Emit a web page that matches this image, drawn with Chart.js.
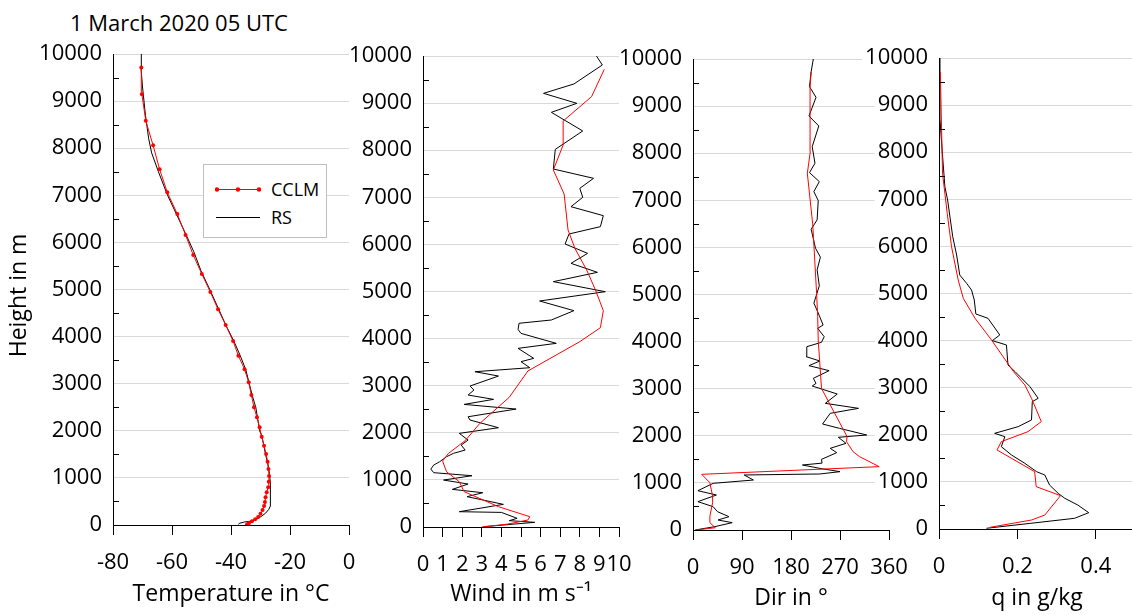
<!DOCTYPE html>
<html>
<head>
<meta charset="utf-8">
<script src="https://cdn.jsdelivr.net/npm/chart.js@4.4.0/dist/chart.umd.min.js"></script>
<style>
  html, body { margin: 0; padding: 0; background: #fff; width: 1132px; height: 615px; overflow: hidden; }
  body { position: relative; font-family: "Open Sans", sans-serif; color: #000; }
  canvas.panel { position: absolute; left: 0; top: 0; }
  #titulo { position: absolute; left: 70px; top: 8px; font-size: 22px; line-height: 28px; white-space: nowrap; }
  #leyenda { position: absolute; left: 203px; top: 164px; width: 122px; height: 72px; border: 1px solid #bfbfbf; background: #fff; }
  #leyenda .fila { position: absolute; left: 11px; height: 20px; font-size: 18px; line-height: 20px; white-space: nowrap; }
  #leyenda svg { position: absolute; left: 0; top: 5px; }
  #leyenda span { position: absolute; left: 56px; top: 0; }
</style>
</head>
<body>
<div id="titulo">1 March 2020 05 UTC</div>
<canvas id="g-temp" class="panel" width="1160" height="615"></canvas>
<canvas id="g-viento" class="panel" width="1160" height="615"></canvas>
<canvas id="g-dir" class="panel" width="1160" height="615"></canvas>
<canvas id="g-q" class="panel" width="1160" height="615"></canvas>
<div id="leyenda"></div>
<script>
// Rangos de los ejes: [min, max, paso]
const rangoAltura = [0, 10000, 500];
const rangoTemp = [-80, 0, 20];
const rangoViento = [0, 10, 1];
const rangoDir = [0, 360, 90];
const rangoQ = [0, 0.5, 0.2];

const nombres = ['CCLM', 'RS'];

// Temperatura (°C)
const tempCclmAlt = [0, 14, 42, 78, 120, 170, 240, 318, 403, 488, 588, 694, 800, 920, 1040, 1189, 1344, 1507, 1684, 1875, 2073, 2286, 2498, 2760, 3029, 3305, 3595, 3906, 4246, 4579, 4947, 5329, 5732, 6157, 6603, 7063, 7551, 8060, 8584, 9143, 9716];
const tempCclm = [-34.6, -34.5, -33.9, -32.9, -31.8, -30.8, -30.0, -29.3, -28.8, -28.5, -28.3, -27.9, -27.4, -27.2, -27.1, -27.3, -27.6, -28.1, -28.8, -29.6, -30.3, -31.2, -32.2, -33.1, -34.0, -35.4, -37.5, -39.3, -41.8, -44.4, -47.0, -49.9, -52.8, -55.4, -58.2, -61.6, -64.2, -66.4, -68.9, -70.2, -70.4];
const tempRsAlt = [10, 35, 64, 80, 120, 180, 250, 330, 400, 600, 900, 1100, 1300, 1500, 1700, 1900, 2000, 2200, 2500, 2750, 3000, 3300, 3600, 3900, 4250, 4600, 5000, 5400, 5800, 6200, 6600, 7000, 7500, 7900, 8200, 8700, 9300, 9700, 10000];
const tempRs = [-37.5, -37.2, -35.5, -33.5, -31.5, -29.8, -28.3, -27.2, -26.7, -26.6, -26.7, -27.0, -27.5, -28.3, -28.9, -29.6, -30.3, -30.8, -31.6, -32.8, -33.8, -35.0, -36.9, -39.0, -41.8, -44.3, -47.2, -50.2, -52.6, -55.5, -58.5, -61.5, -64.6, -66.9, -67.9, -69.0, -70.0, -70.5, -70.4];

// Viento (m/s)
const vientoCclmAlt = [0, 60, 148, 219, 431, 750, 962, 1174, 1400, 1563, 1832, 2200, 2753, 3312, 3935, 4232, 4593, 5032, 5457, 5917, 6306, 7070, 7580, 8110, 8620, 9137, 9717];
const vientoCclm = [3.0, 4.3, 5.35, 5.45, 3.85, 2.1, 1.85, 1.2, 1.0, 1.3, 2.15, 2.9, 4.4, 5.35, 8.0, 9.05, 9.2, 8.8, 8.35, 7.75, 7.4, 7.2, 6.65, 7.15, 7.15, 8.6, 9.25];
const vientoRsAlt = [7, 99, 135, 184, 310, 325, 481, 644, 728, 799, 912, 997, 1089, 1153, 1230, 1316, 1386, 1492, 1563, 1634, 1740, 1846, 1988, 2108, 2271, 2341, 2504, 2603, 2710, 2802, 2908, 2993, 3205, 3297, 3382, 3510, 3581, 3793, 3899, 4111, 4196, 4325, 4395, 4593, 4798, 4996, 5209, 5407, 5598, 5810, 6009, 6221, 6377, 6610, 6801, 7000, 7190, 7403, 7601, 8018, 8408, 8804, 8995, 9207, 9406, 9809, 10000];
const vientoRs = [3.1, 5.7, 4.4, 4.8, 4.0, 1.85, 4.1, 2.25, 3.05, 1.5, 2.3, 1.05, 2.5, 0.55, 0.4, 0.55, 0.85, 1.2, 1.55, 2.15, 1.95, 2.3, 1.85, 3.85, 2.4, 2.3, 4.75, 2.1, 3.6, 2.3, 2.6, 2.4, 3.85, 2.65, 5.45, 5.0, 5.65, 4.85, 6.8, 5.0, 4.85, 4.9, 6.55, 7.7, 5.95, 9.3, 6.65, 8.9, 7.55, 8.4, 7.25, 7.45, 9.05, 9.2, 7.55, 8.15, 8.0, 8.7, 6.65, 6.75, 8.15, 6.55, 7.85, 6.15, 7.7, 9.15, 8.85];

// Dirección del viento (°)
const dirCclmAlt = [0, 49, 156, 294, 577, 718, 1004, 1182, 1345, 1557, 1663, 1875, 1982, 3007, 4034, 4533, 5029, 6478, 7574, 8033, 9377, 9730];
const dirCclm = [5, 41, 31, 31, 36, 36, 31, 16, 342, 306, 294, 282, 283, 236, 230, 229, 227, 220, 210, 215.5, 215, 217];
const dirRsAlt = [0, 71, 156, 212, 283, 389, 495, 602, 743, 834, 991, 1061, 1168, 1189, 1239, 1300, 1380, 1420, 1500, 1642, 1734, 1840, 1968, 2017, 2158, 2250, 2477, 2583, 2689, 2887, 3057, 3113, 3220, 3383, 3489, 3588, 3680, 3892, 3985, 4104, 4281, 4352, 4635, 4816, 5184, 5524, 5792, 5983, 6386, 6584, 6994, 7185, 7397, 7588, 7786, 8139, 8578, 8790, 9186, 9413, 9730, 10000];
const dirRs = [4, 40, 72, 46, 66, 45, 37, 9, 43, 9, 37, 111, 94, 233, 270, 237, 201, 237, 236, 264, 252, 281, 267, 319, 269, 238, 252, 304, 243, 265, 219, 226, 221, 250, 213, 233, 208, 209, 236, 241, 229, 239, 229, 222, 232, 228, 234, 225, 217, 228, 230, 222, 232, 214, 224, 219, 231, 213, 226, 214, 217, 221];

// Humedad específica (g/kg)
const qCclmAlt = [36, 191, 297, 708, 899, 1217, 1678, 1855, 2067, 2280, 2775, 3058, 3341, 4013, 4472, 4897, 5286, 5994, 6702, 7551, 9703];
const qCclm = [0.13, 0.236, 0.27, 0.31, 0.248, 0.244, 0.148, 0.159, 0.227, 0.261, 0.236, 0.219, 0.19, 0.134, 0.092, 0.062, 0.049, 0.032, 0.021, 0.009, 0.0034];
const qRsAlt = [15, 121, 227, 347, 509, 651, 757, 934, 1146, 1217, 1394, 1571, 1748, 1960, 2031, 2173, 2315, 2704, 2775, 3022, 3341, 3482, 3907, 3999, 4119, 4473, 4565, 4862, 5074, 5215, 5392, 5817, 6206, 6985, 7268, 8046, 8700, 10000];
const qRs = [0.121, 0.234, 0.346, 0.382, 0.354, 0.321, 0.304, 0.282, 0.270, 0.249, 0.219, 0.185, 0.159, 0.168, 0.142, 0.202, 0.236, 0.238, 0.253, 0.232, 0.194, 0.176, 0.172, 0.136, 0.155, 0.125, 0.094, 0.090, 0.083, 0.0705, 0.053, 0.045, 0.035, 0.022, 0.015, 0.008, 0.0025, 0.0025];

const ANCHO = 1160, ALTO = 615, ANCHO_Y = 110;
const fuente = { family: '"Open Sans", sans-serif', size: 22 };
const fuenteTitulo = { family: '"Open Sans", sans-serif', size: 23 };

function puntos(alturas, valores) {
  return alturas.map((h, i) => ({ x: valores[i], y: h }));
}

// Marcas menores hacia dentro en el eje de alturas (cada 500 m)
// y, si se pide, prolongación de las líneas de rejilla a la derecha
const marcasMenores = {
  id: 'marcasMenores',
  afterDraw(chart, args, opts) {
    const { ctx, chartArea, scales } = chart;
    ctx.save();
    ctx.lineWidth = 1;
    ctx.strokeStyle = '#000';
    for (let h = rangoAltura[0] + rangoAltura[2]; h < rangoAltura[1]; h += 2 * rangoAltura[2]) {
      const y = Math.round(scales.y.getPixelForValue(h)) + 0.5;
      ctx.beginPath();
      ctx.moveTo(chartArea.left, y);
      ctx.lineTo(chartArea.left + 6, y);
      ctx.stroke();
    }
    if (opts.extra) {
      ctx.strokeStyle = '#d9d9d9';
      for (let h = 1000; h <= rangoAltura[1]; h += 1000) {
        const y = Math.round(scales.y.getPixelForValue(h)) + 0.5;
        ctx.beginPath();
        ctx.moveTo(chartArea.right, y);
        ctx.lineTo(chartArea.right + opts.extra, y);
        ctx.stroke();
      }
    }
    ctx.restore();
  }
};

function crearPanel(idCanvas, p) {
  const ctx = document.getElementById(idCanvas).getContext('2d');
  return new Chart(ctx, {
    type: 'scatter',
    data: {
      datasets: [{
        label: nombres[0],
        data: puntos(p.cclmAlt, p.cclm),
        showLine: true,
        borderColor: '#ff0000',
        backgroundColor: '#ff0000',
        borderWidth: 1,
        pointRadius: p.marcas ? 2 : 0,
        pointBorderWidth: 0
      }, {
        label: nombres[1],
        data: puntos(p.rsAlt, p.rs),
        showLine: true,
        borderColor: '#000',
        backgroundColor: '#000',
        borderWidth: 1,
        pointRadius: 0
      }]
    },
    options: {
      responsive: false,
      animation: false,
      devicePixelRatio: 1,
      layout: { padding: { left: p.izq - ANCHO_Y, right: ANCHO - p.der, top: p.arriba, bottom: 0 } },
      plugins: {
        legend: { display: false },
        tooltip: { enabled: false },
        marcasMenores: { extra: p.extra || 0 }
      },
      scales: {
        x: {
          type: 'linear',
          min: p.rango[0], max: p.rango[1],
          ticks: {
            stepSize: p.rango[2], autoSkip: false, maxRotation: 0, padding: 15,
            includeBounds: false,
            font: fuente, color: '#000',
            callback: v => String(Math.round(v * 100) / 100)
          },
          grid: { drawOnChartArea: false, drawTicks: true, tickLength: 10, color: '#000', lineWidth: 1 },
          border: { color: '#000', width: 1 },
          title: { display: true, text: p.titulo, font: fuenteTitulo, color: '#000', padding: { top: 0, bottom: p.pTitulo } },
          afterFit(s) { s.height = ALTO - p.abajo; }
        },
        y: {
          type: 'linear',
          min: rangoAltura[0], max: rangoAltura[1],
          ticks: {
            stepSize: rangoAltura[2], autoSkip: false, padding: 11,
            font: fuente, color: '#000',
            showLabelBackdrop: !!p.fondoEtiquetas,
            backdropColor: '#fff',
            backdropPadding: { top: 0, bottom: 0, left: 3, right: 0 },
            callback: v => (v % 1000 === 0) ? String(v) : ''
          },
          grid: {
            drawTicks: false,
            color: c => (c.tick && c.tick.value % 1000 === 0 && c.tick.value !== 0) ? '#d9d9d9' : 'rgba(0,0,0,0)',
            lineWidth: 1
          },
          border: { color: '#000', width: 1 },
          title: { display: !!p.tituloY, text: p.tituloY || '', font: fuenteTitulo, color: '#000', padding: { top: 3, bottom: 0 } },
          afterFit(s) { s.width = ANCHO_Y; }
        }
      }
    },
    plugins: [marcasMenores]
  });
}

const gTemp = crearPanel('g-temp', {
  izq: 113, der: 349, arriba: 54, abajo: 525, rango: rangoTemp, pTitulo: 7,
  titulo: 'Temperature in °C', tituloY: 'Height in m  ', marcas: true,
  cclmAlt: tempCclmAlt, cclm: tempCclm, rsAlt: tempRsAlt, rs: tempRs
});
crearPanel('g-viento', {
  izq: 423, der: 619, arriba: 56, abajo: 527, rango: rangoViento, pTitulo: 7,
  titulo: 'Wind in m s\u207B\u00B9',
  cclmAlt: vientoCclmAlt, cclm: vientoCclm, rsAlt: vientoRsAlt, rs: vientoRs
});
crearPanel('g-dir', {
  izq: 693, der: 889, arriba: 59, abajo: 530, rango: rangoDir, pTitulo: 3, extra: 36,
  titulo: 'Dir in °',
  cclmAlt: dirCclmAlt, cclm: dirCclm, rsAlt: dirRsAlt, rs: dirRs
});
crearPanel('g-q', {
  izq: 939, der: 1135, arriba: 58, abajo: 529, rango: rangoQ, pTitulo: 3, fondoEtiquetas: true,
  titulo: 'q in g/kg',
  cclmAlt: qCclmAlt, cclm: qCclm, rsAlt: qRsAlt, rs: qRs
});

// Leyenda en HTML a partir de las series del primer panel
function crearLeyenda(chart) {
  const caja = document.getElementById('leyenda');
  chart.data.datasets.forEach((ds, i) => {
    const fila = document.createElement('div');
    fila.className = 'fila';
    fila.style.top = (14 + i * 28) + 'px';
    let marcas = '';
    if (ds.pointRadius > 0) {
      [2, 23, 44].forEach(cx => { marcas += `<circle cx="${cx}" cy="5.5" r="2.2" fill="${ds.backgroundColor}"/>`; });
    }
    fila.innerHTML = `<svg width="46" height="10"><line x1="1" y1="5.5" x2="45" y2="5.5" stroke="${ds.borderColor}" stroke-width="1"/>${marcas}</svg><span>${ds.label}</span>`;
    caja.appendChild(fila);
  });
}
crearLeyenda(gTemp);
</script>
</body>
</html>
